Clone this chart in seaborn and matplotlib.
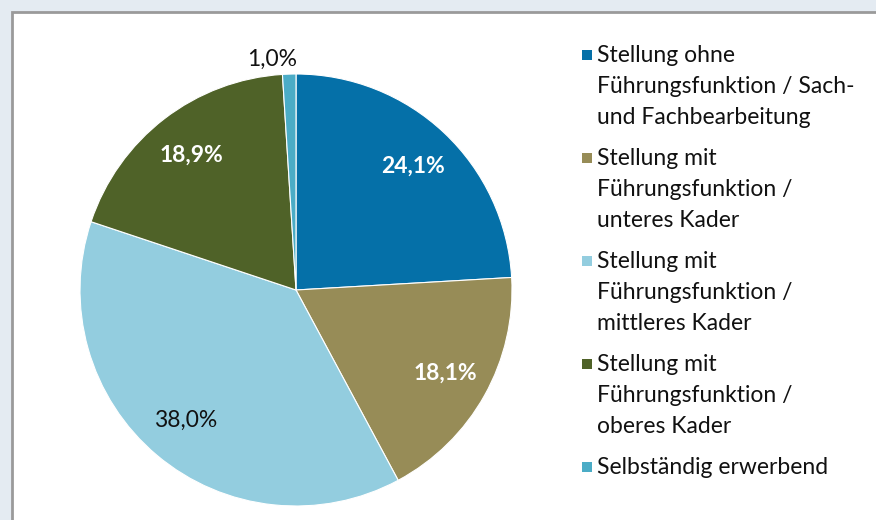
import matplotlib
matplotlib.use("Agg")
import matplotlib.pyplot as plt
from matplotlib.patches import Rectangle
import seaborn as sns

# Daten
kategorien = [
    "Stellung ohne\nFührungsfunktion / Sach-\nund Fachbearbeitung",
    "Stellung mit\nFührungsfunktion /\nunteres Kader",
    "Stellung mit\nFührungsfunktion /\nmittleres Kader",
    "Stellung mit\nFührungsfunktion /\noberes Kader",
    "Selbständig erwerbend",
]
anteile = [24.1, 18.1, 38.0, 18.9, 1.0]
farben = ["#0570a8", "#978c57", "#93cddf", "#4f6228", "#4bacc6"]
label_farben = ["white", "white", "#111111", "white", "#111111"]
label_gewicht = ["bold", "bold", "normal", "bold", "normal"]

sns.set_theme(style="white")
plt.rcParams["font.family"] = ["Lato", "DejaVu Sans"]

fig = plt.figure(figsize=(8.76, 5.2), dpi=100)
fig.patch.set_facecolor("#e4ebf2")

# weisser Rahmen (Diagrammbereich)
fig.patches.append(Rectangle((12 / 876, -0.05), 1.0, 1 - 12 / 520 + 0.05,
                             transform=fig.transFigure, facecolor="white",
                             edgecolor="#9a9a9a", linewidth=2.0, zorder=-5))

ax = fig.add_axes([80 / 876, 14 / 520, 432 / 876, 432 / 520])
ax.set_zorder(2)
ax.patch.set_alpha(0)
palette = sns.color_palette(farben)

def fmt(v):
    return f"{v:.1f}%".replace(".", ",")

wedges, texts, autotexts = ax.pie(
    anteile, colors=palette, startangle=90, counterclock=False,
    autopct="%1.1f%%", pctdistance=0.79, radius=1.0,
    wedgeprops=dict(linewidth=0.8, edgecolor="white"),
)
ax.set_xlim(-1, 1)
ax.set_ylim(-1, 1)
ax.set_aspect("equal")

for t, v, c, w in zip(autotexts, anteile, label_farben, label_gewicht):
    t.set_text(fmt(v))
    t.set_color(c)
    t.set_fontsize(16.5)
    t.set_fontweight(w)

# kleiner Anteil ausserhalb beschriften
autotexts[4].set_position((-0.11, 1.07))

# Legende
y = 1 - 45 / 520
for kat, col in zip(kategorien, palette):
    n = kat.count("\n") + 1
    fig.patches.append(Rectangle((582 / 876, y - 15 / 520), 10 / 876, 10 / 520,
                                 transform=fig.transFigure, facecolor=col,
                                 edgecolor="none", zorder=3))
    fig.text(597 / 876, y, kat, ha="left", va="top", fontsize=16.5,
             color="#111111", linespacing=1.58)
    y -= (n * 31 + 10) / 520

fig.savefig("out.png", dpi=100, facecolor=fig.get_facecolor())
